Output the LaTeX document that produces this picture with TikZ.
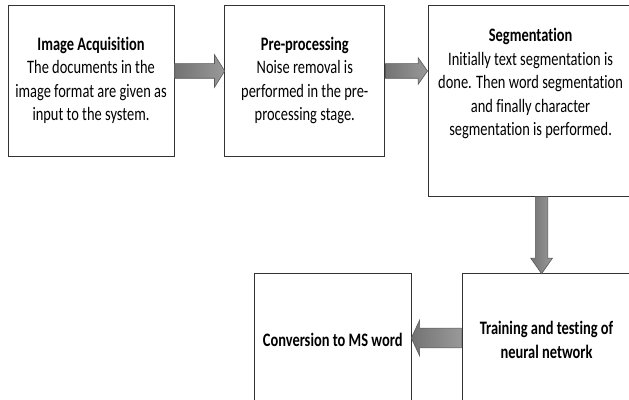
\documentclass[tikz,border=0pt]{standalone}
\usepackage{fontspec}
\setmainfont[FakeStretch=0.76, Ligatures={NoCommon}]{Carlito}
\usetikzlibrary{positioning}
\usetikzlibrary{shapes.arrows}

\begin{document}
\begin{tikzpicture}[
    x=1pt, y=1pt,
    % Define the style for the boxes and the block arrows
    stage/.style={rectangle, draw=black!80, line width=0.8pt, inner sep=0pt, align=center, font=\fontsize{19}{23.5}\selectfont},
    blockarrow/.style={single arrow, draw=black!65, line width=0.6pt, inner xsep=0pt, single arrow head indent=0pt, anchor=tail, left color=black!55, right color=black!40}
]
    \useasboundingbox (0,0) rectangle (629,399);
    \clip (0,0) rectangle (629,399);

    % top row
    \node[stage, minimum width=166, minimum height=151] (acq) at (91,318.5) {\textbf{Image Acquisition}\\The documents in the\\image format are given as\\input to the system.};
    \node[stage, minimum width=160, minimum height=151, right=50pt of acq] (pre) {\textbf{Pre-processing}\\Noise removal is\\performed in the pre-\\processing stage.};
    \node[stage, minimum width=204, minimum height=191, right=43pt of pre.north east, anchor=north west] (seg) {};
    \node[stage, draw=none] (segtext) at ([yshift=17pt]seg.center) {\textbf{Segmentation}\\Initially text segmentation is\\done. Then word segmentation\\and finally character\\segmentation is performed.};

    % bottom row
    \node[stage, minimum width=169, minimum height=134] (train) at (546.5,59) {\textbf{Training and testing of}\\\textbf{neural network}};
    \node[stage, minimum width=157, minimum height=134, left=50pt of train] (conv) {\textbf{Conversion to MS word}};

    % block arrows
    \node[blockarrow, minimum height=50, inner ysep=7pt, single arrow head extend=9pt, single arrow tip angle=116] (a1) at ([yshift=9.5pt]acq.east) {};
    \node[blockarrow, minimum height=42, inner ysep=7pt, single arrow head extend=6pt, single arrow tip angle=110] (a2) at ([yshift=9.5pt]pre.east) {};
    \node[blockarrow, minimum height=77, inner ysep=6pt, single arrow head extend=4.5pt, single arrow tip angle=70, rotate=-90] (a3) at ([xshift=11pt]seg.south) {};
    \node[blockarrow, minimum height=50, inner ysep=9.5pt, single arrow head extend=8pt, single arrow tip angle=130, rotate=180] (a4) at ([yshift=2pt]train.west) {};

\end{tikzpicture}
\end{document}
